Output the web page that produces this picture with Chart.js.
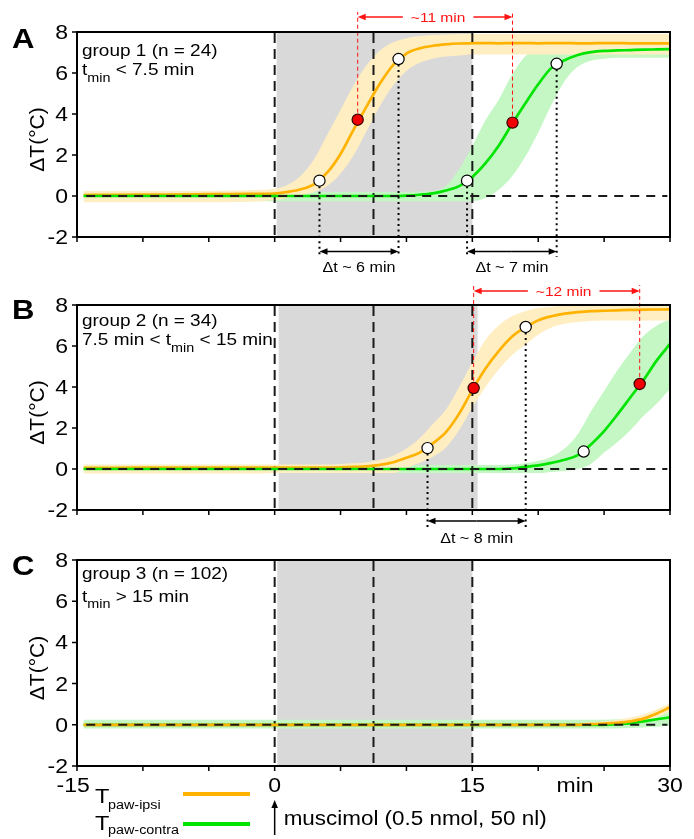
<!DOCTYPE html>
<html>
<head>
<meta charset="utf-8">
<title>Paw temperature after muscimol</title>
<script src="https://cdn.jsdelivr.net/npm/chart.js@4.4.1/dist/chart.umd.min.js"></script>
<style>
  html, body { margin: 0; padding: 0; background: #fff; }
  .panel { position: absolute; left: 0; }
  canvas { display: block; }
</style>
</head>
<body>
<div class="panel" style="top:0px"><canvas id="chartA" width="694" height="275"></canvas></div>
<div class="panel" style="top:275px"><canvas id="chartB" width="694" height="273"></canvas></div>
<div class="panel" style="top:548px"><canvas id="chartC" width="694" height="291"></canvas></div>
<script>
// time axis (min) shared by all three groups
const times = [-14.5, -12, -9, -6, -4, -2, -1,
  0, 1, 2, 3, 4, 5, 6, 7, 8, 9,
  10, 11, 12, 13, 14, 15, 16, 17, 18, 19,
  20, 21, 22, 23, 24, 25, 26, 27, 28, 29, 30];

// group 1: mean and band edges (ipsi = orange, contra = green)
const aIpsi = [0.05, 0.06, 0.07, 0.08, 0.09, 0.10, 0.10,
  0.12, 0.20, 0.33, 0.58, 1.15, 2.05, 3.25, 4.40, 5.50, 6.40,
  6.95, 7.20, 7.33, 7.40, 7.44, 7.45, 7.46, 7.45, 7.46, 7.46,
  7.45, 7.46, 7.46, 7.45, 7.45, 7.46, 7.46, 7.45, 7.45, 7.45, 7.44];
const aIpsiHi = [0.25, 0.25, 0.25, 0.25, 0.26, 0.28, 0.30,
  0.35, 0.55, 1.00, 1.80, 3.00, 4.20, 5.40, 6.40, 7.10, 7.50,
  7.70, 7.80, 7.85, 7.88, 7.90, 7.90, 7.90, 7.90, 7.90, 7.90,
  7.90, 7.90, 7.90, 7.90, 7.90, 7.90, 7.90, 7.90, 7.90, 7.90, 7.90];
const aIpsiLo = [-0.30, -0.30, -0.30, -0.30, -0.30, -0.28, -0.25,
  -0.20, -0.10, 0.05, 0.20, 0.50, 1.10, 2.00, 3.20, 4.40, 5.40,
  6.10, 6.50, 6.70, 6.80, 6.85, 6.90, 6.90, 6.90, 6.90, 6.90,
  6.90, 6.90, 6.90, 6.90, 6.90, 6.90, 6.90, 6.90, 6.90, 6.90, 6.90];
const aContra = [0, 0, 0, 0, 0, 0, 0,
  0, 0, 0, 0, 0, 0, 0, 0, 0, 0,
  0.02, 0.06, 0.13, 0.27, 0.48, 0.93, 1.60, 2.45, 3.50, 4.50,
  5.45, 6.25, 6.62, 6.88, 7.02, 7.08, 7.10, 7.12, 7.14, 7.15, 7.16];
const aContraHi = [0.20, 0.20, 0.20, 0.20, 0.20, 0.20, 0.20,
  0.20, 0.20, 0.20, 0.20, 0.20, 0.20, 0.20, 0.20, 0.20, 0.20,
  0.20, 0.22, 0.25, 0.50, 1.30, 2.45, 3.70, 4.70, 5.90, 6.80,
  7.20, 7.35, 7.42, 7.46, 7.50, 7.50, 7.50, 7.50, 7.50, 7.50, 7.50];
const aContraLo = [-0.25, -0.25, -0.25, -0.25, -0.25, -0.25, -0.25,
  -0.25, -0.25, -0.25, -0.25, -0.25, -0.25, -0.25, -0.25, -0.25, -0.25,
  -0.25, -0.25, -0.25, -0.25, -0.25, -0.25, -0.10, 0.30, 0.95, 1.90,
  3.10, 4.45, 5.60, 6.30, 6.60, 6.70, 6.75, 6.75, 6.75, 6.75, 6.75];
const aIpsiWhiteX = [3.4, 9.4], aIpsiWhiteY = [0.75, 6.68];
const aContraWhiteX = [14.6, 21.4], aContraWhiteY = [0.75, 6.45];
const aRedX = [6.3, 18.05], aRedY = [3.72, 3.58];
const aDeltaText = ['\u0394t ~ 6 min', '\u0394t ~ 7 min'];
const aSpanText = '~11 min';
const aShade = [0.15, 15];

// group 2
const bIpsi = [0.06, 0.06, 0.07, 0.07, 0.07, 0.07, 0.07,
  0.07, 0.07, 0.07, 0.07, 0.07, 0.08, 0.10, 0.13, 0.20, 0.33,
  0.55, 0.80, 1.25, 1.80, 2.70, 3.85, 4.90, 5.75, 6.45, 6.90,
  7.25, 7.45, 7.58, 7.65, 7.70, 7.72, 7.74, 7.76, 7.77, 7.78, 7.79];
const bIpsiHi = [0.22, 0.22, 0.22, 0.22, 0.22, 0.22, 0.22,
  0.22, 0.22, 0.22, 0.22, 0.22, 0.25, 0.28, 0.33, 0.45, 0.65,
  1.00, 1.50, 2.20, 2.90, 4.00, 5.20, 6.30, 7.00, 7.45, 7.70,
  7.85, 7.92, 7.96, 7.97, 7.97, 7.97, 7.97, 7.97, 7.97, 7.97, 7.97];
const bIpsiLo = [-0.22, -0.22, -0.22, -0.22, -0.22, -0.22, -0.22,
  -0.20, -0.20, -0.20, -0.20, -0.20, -0.20, -0.20, -0.20, -0.20, -0.20,
  0.05, 0.30, 0.60, 1.05, 1.90, 3.00, 4.00, 4.85, 5.55, 6.05,
  6.55, 6.90, 7.08, 7.17, 7.22, 7.25, 7.25, 7.25, 7.25, 7.25, 7.25];
const bContra = [0, 0, 0, 0, 0, 0, 0,
  0, 0, 0, 0, 0, 0, 0, 0, 0, 0,
  0, 0, 0, 0, 0, 0, 0, 0, 0.03, 0.10,
  0.18, 0.30, 0.45, 0.68, 1.20, 1.85, 2.65, 3.50, 4.35, 5.30, 6.10];
const bContraHi = [0.20, 0.20, 0.20, 0.20, 0.20, 0.20, 0.20,
  0.20, 0.20, 0.20, 0.20, 0.20, 0.20, 0.20, 0.20, 0.20, 0.20,
  0.20, 0.20, 0.20, 0.20, 0.20, 0.20, 0.20, 0.20, 0.22, 0.28,
  0.40, 0.60, 1.00, 1.70, 2.80, 3.80, 4.80, 5.70, 6.50, 7.00, 7.30];
const bContraLo = [-0.20, -0.20, -0.20, -0.20, -0.20, -0.20, -0.20,
  -0.20, -0.20, -0.20, -0.20, -0.20, -0.20, -0.20, -0.20, -0.20, -0.20,
  -0.20, -0.20, -0.20, -0.20, -0.20, -0.20, -0.20, -0.20, -0.20, -0.20,
  -0.20, -0.15, -0.10, 0.00, 0.25, 0.80, 1.30, 1.90, 2.60, 3.20, 3.90];
const bIpsiWhiteX = [11.6, 19.05], bIpsiWhiteY = [1.02, 6.93];
const bContraWhiteX = [23.45], bContraWhiteY = [0.85];
const bRedX = [15.1, 27.7], bRedY = [3.95, 4.15];
const bDeltaText = ['\u0394t ~ 8 min'];
const bSpanText = '~12 min';
const bShade = [0.3, 15.4];

// group 3
const cIpsi = [0, 0, 0, 0, 0, 0, 0,
  0, 0, 0, 0, 0, 0, 0, 0, 0, 0,
  0, 0, 0, 0, 0, 0, 0, 0, 0, 0,
  0, 0, 0, 0, 0.03, 0.06, 0.10, 0.17, 0.30, 0.55, 0.85];
const cIpsiHi = [0.08, 0.08, 0.08, 0.08, 0.08, 0.08, 0.08,
  0.08, 0.08, 0.08, 0.08, 0.08, 0.08, 0.08, 0.08, 0.08, 0.08,
  0.08, 0.08, 0.08, 0.08, 0.08, 0.08, 0.08, 0.08, 0.08, 0.08,
  0.08, 0.08, 0.08, 0.08, 0.12, 0.16, 0.24, 0.35, 0.50, 0.75, 1.05];
const cIpsiLo = [-0.08, -0.08, -0.08, -0.08, -0.08, -0.08, -0.08,
  -0.08, -0.08, -0.08, -0.08, -0.08, -0.08, -0.08, -0.08, -0.08, -0.08,
  -0.08, -0.08, -0.08, -0.08, -0.08, -0.08, -0.08, -0.08, -0.08, -0.08,
  -0.08, -0.08, -0.08, -0.08, -0.08, -0.08, -0.04, 0.02, 0.12, 0.35, 0.65];
const cContra = [0, 0, 0, 0, 0, 0, 0,
  0, 0, 0, 0, 0, 0, 0, 0, 0, 0,
  0, 0, 0, 0, 0, 0, 0, 0, 0, 0,
  0, 0, 0, 0, 0, 0, 0.03, 0.07, 0.17, 0.27, 0.36];
const cContraHi = [0.25, 0.25, 0.25, 0.25, 0.25, 0.25, 0.25,
  0.25, 0.25, 0.25, 0.25, 0.25, 0.25, 0.25, 0.25, 0.25, 0.25,
  0.25, 0.25, 0.25, 0.25, 0.25, 0.25, 0.25, 0.25, 0.25, 0.25,
  0.25, 0.25, 0.25, 0.25, 0.25, 0.25, 0.27, 0.30, 0.40, 0.52, 0.62];
const cContraLo = [-0.18, -0.18, -0.18, -0.18, -0.18, -0.18, -0.18,
  -0.18, -0.18, -0.18, -0.18, -0.18, -0.18, -0.18, -0.18, -0.18, -0.18,
  -0.18, -0.18, -0.18, -0.18, -0.18, -0.18, -0.18, -0.18, -0.18, -0.18,
  -0.18, -0.18, -0.18, -0.18, -0.18, -0.18, -0.18, -0.16, -0.13, -0.10, -0.05];
const cShade = [0.2, 15];

const refTimes = [0, 7.5, 15];          // injection start, 7.5 and 15 min marks
const zeroLine = [-14.3, 29.8];
const xLabelTicks = [-15, 0, 15, 30];
const xUnit = 'min', xUnitAt = 22.8;
const yTitle = '\u0394T(\u00B0C)';
const legendIpsi = 'paw-ipsi', legendContra = 'paw-contra';
const drugText = 'muscimol (0.5 nmol, 50 nl)';

const ORANGE = '#ffb300', GREEN = '#00e400';
const ORANGE_BAND = '#ffeec2', GREEN_BAND = '#c4f7c4';
const SHADE = '#d9d9d9', RED = '#ff1414', INK = '#1a1a1a';
const FONT = '"Liberation Sans", Arial, Helvetica, sans-serif';
const SX = 1.15;   // labels in this figure are set a bit wide

const panels = {
  chartA: {
    letter: 'A', title: 'group 1 (n = 24)', sub: [['t', 0], ['min', 1], [' < 7.5 min', 0]],
    ipsi: aIpsi, ipsiHi: aIpsiHi, ipsiLo: aIpsiLo, contra: aContra, contraHi: aContraHi, contraLo: aContraLo,
    whites: [[aIpsiWhiteX, aIpsiWhiteY], [aContraWhiteX, aContraWhiteY]], reds: [aRedX, aRedY],
    deltas: [{ x: aIpsiWhiteX, y: aIpsiWhiteY, text: aDeltaText[0] }, { x: aContraWhiteX, y: aContraWhiteY, text: aDeltaText[1] }],
    span: { x: aRedX, y: aRedY, text: aSpanText }, shade: aShade, contraOnTop: true,
    pad: { top: 32, bottom: 38 }, letterDy: 16, textDy: [24, 43], subDy: 7,
    dropBelow: 20, arrowBelow: 14.5, deltaTextBelow: 35, spanRise: 20, spanArrow: 15, spanText: 10, spanShift: 3
  },
  chartB: {
    letter: 'B', title: 'group 2 (n = 34)', sub: [['7.5 min < t', 0], ['min', 1], [' < 15 min', 0]],
    ipsi: bIpsi, ipsiHi: bIpsiHi, ipsiLo: bIpsiLo, contra: bContra, contraHi: bContraHi, contraLo: bContraLo,
    whites: [[bIpsiWhiteX, bIpsiWhiteY], [bContraWhiteX, bContraWhiteY]], reds: [bRedX, bRedY],
    deltas: [{ x: bIpsiWhiteX, y: bIpsiWhiteY, text: bDeltaText[0] }],
    span: { x: bRedX, y: bRedY, text: bSpanText }, shade: bShade, contraOnTop: true,
    pad: { top: 30, bottom: 38 }, letterDy: 14, textDy: [21, 40], subDy: 7,
    dropBelow: 17, arrowBelow: 11, deltaTextBelow: 33, spanRise: 20, spanArrow: 14, spanText: 9, spanShift: 7
  },
  chartC: {
    letter: 'C', title: 'group 3 (n = 102)', sub: [['t', 0], ['min', 1], [' > 15 min', 0]],
    ipsi: cIpsi, ipsiHi: cIpsiHi, ipsiLo: cIpsiLo, contra: cContra, contraHi: cContraHi, contraLo: cContraLo,
    whites: [], reds: null, deltas: [], span: null, shade: cShade, contraOnTop: false,
    pad: { top: 12, bottom: 73 }, letterDy: 15, textDy: [19, 42], subDy: 6,
    xLabels: true, legend: true
  }
};

function pts(vals) { return times.map((t, i) => ({ x: t, y: vals[i] })); }
function marks(xs, ys) { return xs.map((x, i) => ({ x: x, y: ys[i] })); }

function text(ctx, str, x, y, size, align, color, weight) {
  ctx.save();
  ctx.font = (weight || 'normal') + ' ' + size + 'px ' + FONT;
  ctx.fillStyle = color || '#000';
  ctx.textAlign = align || 'left';
  ctx.textBaseline = 'alphabetic';
  ctx.translate(x, y);
  ctx.scale(SX, 1);
  ctx.fillText(str, 0, 0);
  const w = ctx.measureText(str).width * SX;
  ctx.restore();
  return w;
}
function textWidth(ctx, str, size) {
  ctx.save();
  ctx.font = size + 'px ' + FONT;
  const w = ctx.measureText(str).width * SX;
  ctx.restore();
  return w;
}
function arrow(ctx, x0, y0, x1, y1, color, lw) {
  const ang = Math.atan2(y1 - y0, x1 - x0), len = 8, half = 3.3;
  ctx.save();
  ctx.setLineDash([]);
  ctx.strokeStyle = color; ctx.fillStyle = color; ctx.lineWidth = lw;
  ctx.beginPath();
  ctx.moveTo(x0, y0);
  ctx.lineTo(x1 - Math.cos(ang) * len * 0.8, y1 - Math.sin(ang) * len * 0.8);
  ctx.stroke();
  ctx.translate(x1, y1); ctx.rotate(ang);
  ctx.beginPath();
  ctx.moveTo(0, 0); ctx.lineTo(-len, -half); ctx.lineTo(-len, half); ctx.closePath();
  ctx.fill();
  ctx.restore();
}

function drawRefLines(chart) {
  const { ctx, chartArea: a, scales: { x } } = chart;
  ctx.save();
  ctx.strokeStyle = INK; ctx.lineWidth = 2; ctx.setLineDash([10, 6]);
  refTimes.forEach(t => {
    const px = x.getPixelForValue(t);
    ctx.beginPath(); ctx.moveTo(px, a.top + 1); ctx.lineTo(px, a.bottom); ctx.stroke();
  });
  ctx.restore();
}

function drawLinks(chart) {
  const p = panels[chart.canvas.id];
  const { ctx, chartArea: a, scales: { x, y } } = chart;
  ctx.save();
  ctx.strokeStyle = INK; ctx.lineWidth = 2; ctx.setLineDash([9, 7]);
  ctx.beginPath();
  ctx.moveTo(x.getPixelForValue(zeroLine[0]), y.getPixelForValue(0));
  ctx.lineTo(x.getPixelForValue(zeroLine[1]), y.getPixelForValue(0));
  ctx.stroke();

  // dotted drops from the 10 % / 90 % points
  ctx.strokeStyle = '#000'; ctx.setLineDash([2, 3.5]);
  p.deltas.forEach(d => d.x.forEach((xv, i) => {
    const px = x.getPixelForValue(xv);
    ctx.beginPath(); ctx.moveTo(px, y.getPixelForValue(d.y[i])); ctx.lineTo(px, a.bottom + p.dropBelow); ctx.stroke();
  }));

  // red dashed rises from the 50 % points
  if (p.span) {
    ctx.strokeStyle = RED; ctx.lineWidth = 1; ctx.setLineDash([4, 3]);
    p.span.x.forEach((xv, i) => {
      const px = x.getPixelForValue(xv);
      ctx.beginPath(); ctx.moveTo(px, y.getPixelForValue(p.span.y[i])); ctx.lineTo(px, a.top - p.spanRise); ctx.stroke();
    });
  }
  ctx.restore();
}

function drawDecorations(chart) {
  const p = panels[chart.canvas.id];
  const { ctx, chartArea: a, scales: { x, y } } = chart;
  ctx.save();
  ctx.setLineDash([]);
  ctx.strokeStyle = '#000'; ctx.lineWidth = 2;
  ctx.strokeRect(a.left, a.top, a.right - a.left, a.bottom - a.top);

  ctx.lineWidth = 1.5;
  ctx.beginPath();
  x.ticks.forEach(t => { const px = x.getPixelForValue(t.value); ctx.moveTo(px, a.bottom); ctx.lineTo(px, a.bottom + 5); });
  y.ticks.forEach(t => { const py = y.getPixelForValue(t.value); ctx.moveTo(a.left - 5, py); ctx.lineTo(a.left, py); });
  ctx.stroke();
  ctx.restore();

  y.ticks.forEach(t => text(ctx, String(t.value), a.left - 9, y.getPixelForValue(t.value) + 7, 20, 'right'));

  ctx.save();
  ctx.translate(38, (a.top + a.bottom) / 2 + 5);
  ctx.rotate(-Math.PI / 2);
  ctx.font = '21px ' + FONT;
  ctx.fillStyle = '#000'; ctx.textAlign = 'center'; ctx.textBaseline = 'middle';
  ctx.fillText(yTitle, 0, 0);
  ctx.restore();

  text(ctx, p.letter, 12, a.top + p.letterDy, 27, 'left', '#000', 'bold');

  text(ctx, p.title, a.left + 5, a.top + p.textDy[0], 16.5);
  let cx = a.left + 5;
  p.sub.forEach(([s, isSub]) => {
    cx += text(ctx, s, cx, a.top + p.textDy[1] + (isSub ? p.subDy : 0), isSub ? 12.5 : 16.5);
  });

  p.deltas.forEach(d => {
    const x0 = x.getPixelForValue(d.x[0]), x1 = x.getPixelForValue(d.x[1]);
    const ay = a.bottom + p.arrowBelow, mid = (x0 + x1) / 2;
    arrow(ctx, mid, ay, x0, ay, '#000', 1.3);
    arrow(ctx, mid, ay, x1, ay, '#000', 1.3);
    text(ctx, d.text, mid, a.bottom + p.deltaTextBelow, 14, 'center');
  });

  if (p.span) {
    const x0 = x.getPixelForValue(p.span.x[0]), x1 = x.getPixelForValue(p.span.x[1]);
    const mid = (x0 + x1) / 2 + p.spanShift, w = textWidth(ctx, p.span.text, 13.5);
    const ay = a.top - p.spanArrow;
    arrow(ctx, mid - w / 2 - 8, ay, x0, ay, RED, 1.5);
    arrow(ctx, mid + w / 2 + 8, ay, x1, ay, RED, 1.5);
    text(ctx, p.span.text, mid, a.top - p.spanText, 13.5, 'center', RED);
  }

  if (p.xLabels) {
    const minusHalf = textWidth(ctx, '-', 20) / 2;
    xLabelTicks.forEach(v => {
      const s = String(v);
      const px = x.getPixelForValue(v) - (v < 0 ? minusHalf : 0);
      text(ctx, s, px, a.bottom + 26, 20, 'center');
    });
    text(ctx, xUnit, x.getPixelForValue(xUnitAt), a.bottom + 26, 20, 'center');
  }

  if (p.legend) {
    const rows = [[legendIpsi, ORANGE, 37, 43, 28], [legendContra, GREEN, 64, 68, 58]];
    rows.forEach(([lab, col, tDy, sDy, lDy]) => {
      text(ctx, 'T', 95, a.bottom + tDy, 20.5);
      text(ctx, lab, 108, a.bottom + sDy, 12.5);
      ctx.save();
      ctx.strokeStyle = col; ctx.lineWidth = 4;
      ctx.beginPath(); ctx.moveTo(183, a.bottom + lDy); ctx.lineTo(250, a.bottom + lDy); ctx.stroke();
      ctx.restore();
    });
    const ax = x.getPixelForValue(0);
    arrow(ctx, ax, a.bottom + 69, ax, a.bottom + 34, '#000', 1.5);
    text(ctx, drugText, ax + 9, a.bottom + 59, 19.5);
  }
}

const decorPlugin = {
  id: 'panelDecor',
  beforeDatasetsDraw(chart) {
    const p = panels[chart.canvas.id];
    const { ctx, chartArea: a, scales: { x } } = chart;
    chart.$refDone = false; chart.$linkDone = false;
    const x0 = x.getPixelForValue(p.shade[0]), x1 = x.getPixelForValue(p.shade[1]);
    ctx.save();
    ctx.fillStyle = SHADE;
    ctx.fillRect(x0, a.top, x1 - x0, a.bottom - a.top);
    ctx.restore();
  },
  beforeDatasetDraw(chart, args) {
    const order = chart.data.datasets[args.index].order;
    if (order < 3 && !chart.$refDone) { chart.$refDone = true; drawRefLines(chart); }
    if (order <= 1 && !chart.$linkDone) { chart.$linkDone = true; drawLinks(chart); }
  },
  afterDatasetsDraw(chart) {
    if (!chart.$refDone) { chart.$refDone = true; drawRefLines(chart); }
    if (!chart.$linkDone) { chart.$linkDone = true; drawLinks(chart); }
    drawDecorations(chart);
  }
};

function band(hi, lo, color) {
  return [
    { data: pts(hi), fill: '+1', backgroundColor: color, borderWidth: 0, pointRadius: 0, cubicInterpolationMode: 'monotone', order: 3 },
    { data: pts(lo), fill: false, borderWidth: 0, pointRadius: 0, cubicInterpolationMode: 'monotone', order: 3 }
  ];
}

function buildChart(id) {
  const p = panels[id];
  const datasets = [
    ...band(p.ipsiHi, p.ipsiLo, ORANGE_BAND),
    ...band(p.contraHi, p.contraLo, GREEN_BAND),
    { data: pts(p.ipsi), borderColor: ORANGE, borderWidth: 2.7, pointRadius: 0, fill: false,
      cubicInterpolationMode: 'monotone', order: p.contraOnTop ? 2.5 : 1.5 },
    { data: pts(p.contra), borderColor: GREEN, borderWidth: 2.7, pointRadius: 0, fill: false,
      cubicInterpolationMode: 'monotone', order: p.contraOnTop ? 1.5 : 2.5 }
  ];
  if (p.whites.length) {
    datasets.push({
      data: p.whites.flatMap(([xs, ys]) => marks(xs, ys)), showLine: false,
      pointRadius: 5.6, pointBackgroundColor: '#fff', pointBorderColor: '#000', pointBorderWidth: 1.2, order: 1
    });
  }
  if (p.reds) {
    datasets.push({
      data: marks(p.reds[0], p.reds[1]), showLine: false,
      pointRadius: 5.6, pointBackgroundColor: '#f00000', pointBorderColor: '#300', pointBorderWidth: 1.2, order: 1
    });
  }

  return new Chart(document.getElementById(id), {
    type: 'line',
    data: { datasets },
    plugins: [decorPlugin],
    options: {
      responsive: false,
      animation: false,
      events: [],
      layout: { padding: { left: 77, right: 24, top: p.pad.top, bottom: p.pad.bottom } },
      plugins: { legend: { display: false }, tooltip: { enabled: false } },
      scales: {
        x: {
          type: 'linear', min: -15, max: 30,
          ticks: { stepSize: 5, display: false },
          grid: { display: false }, border: { display: false },
          afterFit: s => { s.height = 0; }
        },
        y: {
          type: 'linear', min: -2, max: 8,
          ticks: { stepSize: 2, display: false },
          grid: { display: false }, border: { display: false },
          afterFit: s => { s.width = 0; }
        }
      }
    }
  });
}

buildChart('chartA');
buildChart('chartB');
buildChart('chartC');
</script>
</body>
</html>
